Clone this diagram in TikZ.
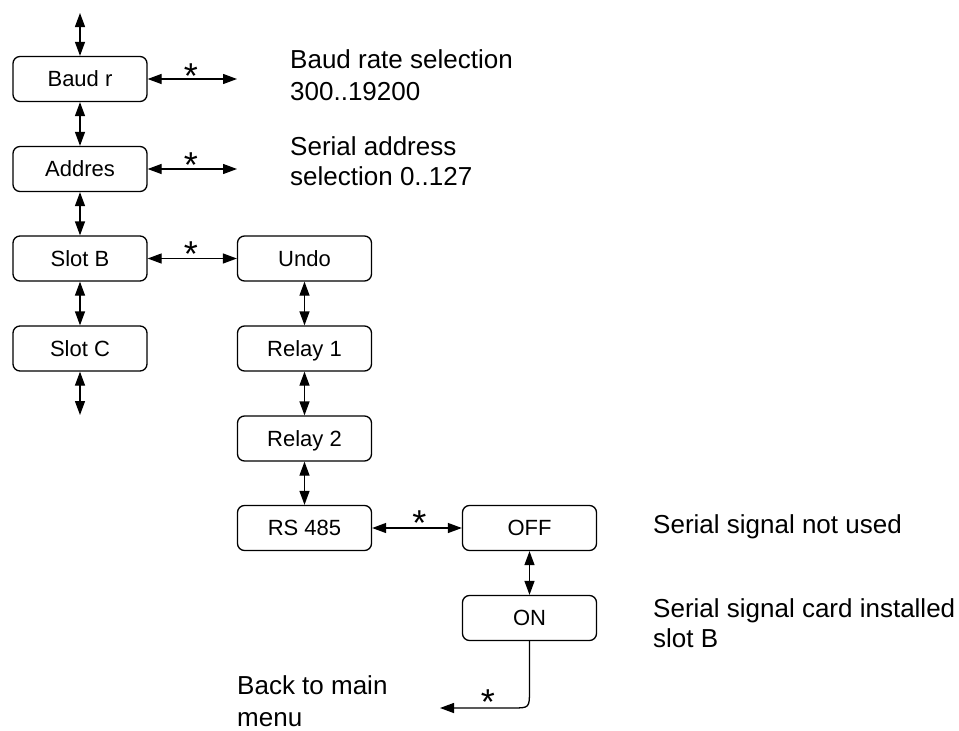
\documentclass[tikz,border=0pt]{standalone}
\usepackage{fontspec}
\setmainfont{Liberation Sans}
\usetikzlibrary{arrows.meta}
\begin{document}
\begin{tikzpicture}[x=1pt,y=-1pt,
  box/.style={draw, rounded corners=7pt, line width=1.3pt, minimum width=134pt, minimum height=45pt, inner sep=0pt, text height=15.5pt, text depth=0pt, font=\fontsize{22}{22}\selectfont},
  tip/.tip={Triangle[length=14pt,width=10pt]},
  conn/.style={line width=1.3pt, tip-tip},
  oneway/.style={line width=1.3pt, -tip},
  note/.style={anchor=base west, inner sep=0pt, font=\fontsize{26}{26}\selectfont},
  starlbl/.style={inner sep=0pt, anchor=base, font=\fontsize{36}{36}\selectfont}]
\useasboundingbox (0,0) rectangle (959,731);
% boxes
\node[box] (baud) at (80,79) {Baud r};
\node[box] (addr) at (80,169) {Addres};
\node[box] (slotb) at (80,258.5) {Slot B};
\node[box] (slotc) at (80,348.5) {Slot C};
\node[box] (undo) at (304.5,258.5) {Undo};
\node[box] (relay1) at (304.5,348.5) {Relay 1};
\node[box] (relay2) at (304.5,438.5) {Relay 2};
\node[box] (rs) at (304.5,528) {RS 485};
\node[box] (off) at (529.5,528) {OFF};
\node[box] (on) at (529.5,618) {ON};
% free ends
\coordinate (top) at (80,13);
\coordinate (bot) at (80,415);
\coordinate (baudE) at (237,79);
\coordinate (addrE) at (237,169);
\coordinate (bend1) at (529.5,690);
\coordinate (bend2) at (512,708);
\coordinate (back) at (440,708);
% connectors
\draw[conn] (top) -- (baud.north);
\draw[conn] (baud.south) -- (addr.north);
\draw[conn] (addr.south) -- (slotb.north);
\draw[conn] (slotb.south) -- (slotc.north);
\draw[conn] (slotc.south) -- (bot);
\draw[conn] (baud.east) -- (baudE);
\draw[conn] (addr.east) -- (addrE);
\draw[conn] (slotb.east) -- (undo.west);
\draw[conn] (undo.south) -- (relay1.north);
\draw[conn] (relay1.south) -- (relay2.north);
\draw[conn] (relay2.south) -- (rs.north);
\draw[conn] (rs.east) -- (off.west);
\draw[conn] (off.south) -- (on.north);
\draw[oneway] (on.south) -- (bend1) .. controls (529.5,708) and (529.5,708) .. (bend2) -- (back);
% stars
\node[starlbl] (s1) at (191,88) {*};
\node[starlbl] (s2) at (191,177) {*};
\node[starlbl] (s3) at (191,266) {*};
\node[starlbl] (s4) at (419.5,535) {*};
\node[starlbl] (s5) at (488,714) {*};
% notes
\node[note] (n1a) at (290,68) {Baud rate selection};
\node[note] (n1b) at (290,100) {300..19200};
\node[note] (n2a) at (290,155) {Serial address};
\node[note] (n2b) at (290,185) {selection 0..127};
\node[note] (n3) at (653,533) {Serial signal not used};
\node[note] (n4a) at (653,617) {Serial signal card installed};
\node[note] (n4b) at (653,647) {slot B};
\node[note] (n5a) at (237,694) {Back to main};
\node[note] (n5b) at (237,726) {menu};
\end{tikzpicture}
\end{document}
